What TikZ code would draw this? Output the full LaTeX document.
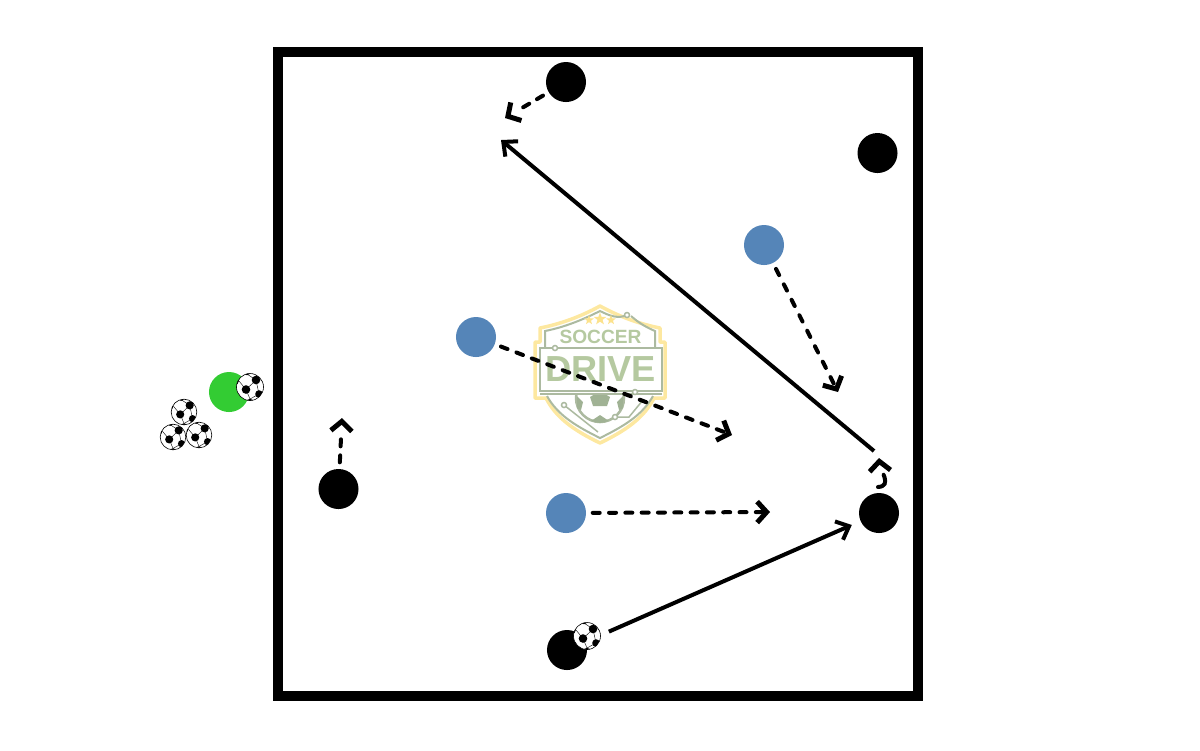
\documentclass[tikz,border=0pt]{standalone}
\usepackage{fontspec}
\usetikzlibrary{arrows.meta,shapes.geometric}
\newfontfamily\logofont{Liberation Sans}
\definecolor{fieldblack}{RGB}{0,0,0}
\definecolor{teamblue}{RGB}{85,133,184}
\definecolor{coachgreen}{RGB}{51,204,51}
\definecolor{logogold}{RGB}{253,232,160}
\definecolor{logostar}{RGB}{252,226,140}
\definecolor{logoline}{RGB}{172,186,160}
\definecolor{logotext}{RGB}{181,201,160}
\definecolor{logoball}{RGB}{160,178,148}

\begin{document}
\begin{tikzpicture}[
      x=0.01cm, y=-0.01cm,
      player/.style={circle, minimum size=0.4cm, inner sep=0pt, fill=fieldblack},
      blueplayer/.style={player, fill=teamblue},
      coach/.style={player, fill=coachgreen},
      run/.style={-{Straight Barb[length=0.95mm,width=2.1mm,line width=0.05cm]}, line width=0.04cm, line cap=round, dash pattern=on 0.07cm off #1cm, shorten <=0.06cm},
      pass/.style={-{Straight Barb[length=1.1mm,width=2mm,line width=0.04cm]}, line width=0.04cm},
      knot/.style={circle, draw=logoline, fill=white, line width=0.015cm, minimum size=0.05cm, inner sep=0pt},
      logostarnode/.style={star, star points=5, star point ratio=2.4, fill=logostar, inner sep=0pt, minimum size=0.1cm},
      pics/soccerball/.style={code={
        \fill[white] (0,0) circle [radius=13.5];
        \begin{scope}
          \clip (0,0) circle [radius=13.5];
          \draw[line width=0.004cm] (-4,2.5) -- (6,-7) (-4,2.5) -- (-11,-6) (-4,2.5) -- (0,12) (6,-7) -- (9,7) (0,12) -- (9,7) (6,-7) -- (-3,-13);
          \fill (-4,2.5) circle [radius=4.3];
          \fill (6,-7) circle [radius=4.3];
          \fill (9,7) circle [radius=3.8];
          \fill (-3,-15) circle [radius=3.2];
          \fill (-15,-6) circle [radius=3.8];
          \fill (0,16) circle [radius=4.2];
          \fill (-13,10) circle [radius=2.5];
          \fill (16,-2) circle [radius=2.8];
        \end{scope}
        \draw[line width=0.006cm] (0,0) circle [radius=13.5];
      }}
    ]
      \useasboundingbox (0,0) rectangle (1200,750);

      % Shield logo
      \draw[logogold, line width=0.035cm, fill=white, line join=round] (600,306) .. controls (580,317) and (560,324) .. (540,328) -- (540,342) -- (535,342) -- (535,398) -- (546,398) .. controls (556,418) and (575,431) .. (600,443) .. controls (625,431) and (644,418) .. (654,398) -- (665,398) -- (665,342) -- (660,342) -- (660,328) .. controls (640,324) and (620,317) .. (600,306) -- cycle;
      \draw[logoline, line width=0.02cm] (545,347) -- (545,331) .. controls (565,327) and (582,320) .. (600,311) .. controls (610,316) and (618,319) .. (627,315) (631,316) .. controls (640,324) and (648,328) .. (655,331) -- (655,347);
      \draw[logoline, line width=0.02cm] (547,396) .. controls (558,416) and (578,427) .. (600,438) .. controls (622,427) and (642,416) .. (653,396);

      % Ball inside the shield
      \begin{scope}
        \clip (540,393) rectangle (662,440);
        \draw[logoline, line width=0.025cm, fill=white] (600,398) circle [radius=24];
        \fill[logoball] (600,391) -- (610,397) -- (607,406) -- (593,406) -- (590,397) -- cycle;
        \fill[logoball] (577,396) -- (583,402) -- (581,410) -- (577,408) -- cycle;
        \fill[logoball] (623,396) -- (617,402) -- (619,410) -- (623,408) -- cycle;
        \fill[logoball] (600,415) -- (609,421) -- (600,423) -- (591,421) -- cycle;
      \end{scope}
      \draw[logoline, line width=0.015cm] (564,405) -- (598,432);
      \draw[logoline, line width=0.015cm] (615,417) -- (629,417) -- (643,400);

      % Band with the name
      \draw[logoline, line width=0.02cm, fill=white] (540,348) rectangle (662,391);
      \draw[logoline, line width=0.015cm] (540,394) -- (662,394);
      \node[logostarnode] (starl) at (589,320) {};
      \node[logostarnode, minimum size=0.13cm] (starm) at (600,319) {};
      \node[logostarnode] (starr) at (611,320) {};
      \node[text=logotext, inner sep=0pt, font=\logofont\bfseries\fontsize{5.45}{7}\selectfont] (soccerword) at (600.5,336.5) {SOCCER};
      \node[text=logotext, inner sep=0pt, font=\logofont\bfseries\fontsize{10.3}{12}\selectfont] (driveword) at (600.8,369.5) {DRIVE};
      \node[knot] (knota) at (555,348) {};
      \node[knot] (knotb) at (635,392) {};
      \node[knot] (knotc) at (627,315) {};
      \node[knot] (knotd) at (564,405) {};
      \node[knot] (knote) at (615,417) {};

      % Grid
      \draw[line width=0.1cm, fieldblack] (278,52) rectangle (918,696);

      % Black team
      \node[player] (topmid) at (566,82) {};
      \node[player] (topright) at (877.5,153) {};
      \node[player] (leftwide) at (338.5,489) {};
      \node[player] (rightwide) at (879,513) {};
      \node[player] (botmid) at (567,650) {};

      % Blue team
      \node[blueplayer] (blueright) at (764,245) {};
      \node[blueplayer] (blueleft) at (476,337) {};
      \node[blueplayer] (bluelow) at (566,513) {};

      % Server and balls
      \node[coach] (server) at (229,392) {};
      \pic (ballserver) at (250,387) {soccerball};
      \pic (ballplay) at (587,636) {soccerball};
      \pic[scale=0.95] (ballone) at (184,412) {soccerball};
      \pic[scale=0.95] (balltwo) at (173,437) {soccerball};
      \pic[scale=0.95] (ballthree) at (199,435) {soccerball};

      % Free ends
      \coordinate (toptarget) at (505,118);
      \coordinate (leftgoal) at (342,418);
      \coordinate (bluertarget) at (838,392);
      \coordinate (blueltarget) at (732,435);
      \coordinate (bluelowtarget) at (770,512);
      \coordinate (hookstart) at (878,487);
      \coordinate (hooktarget) at (879,458);
      \coordinate (passstart) at (874,451);
      \coordinate (passend) at (501,140);

      % Runs
      \draw[run=0.09, dash pattern=on 0.07cm off 0.09cm on 0.07cm off 0.4cm] (topmid) -- (toptarget);
      \draw[run=0.09, dash pattern=on 0.07cm off 0.09cm on 0.07cm off 0.4cm] (leftwide) -- (leftgoal);
      \draw[run=0.103] (blueright) -- (bluertarget);
      \draw[run=0.095] (blueleft) -- (blueltarget);
      \draw[run=0.093] (bluelow) -- (bluelowtarget);
      \draw[run=0.09, shorten <=0pt, dash pattern=on 0.17cm off 0.3cm] (hookstart) .. controls (893,486) and (880,470) .. (hooktarget);

      % Passes
      \draw[pass] (passstart) -- (passend);
      \draw[pass, shorten <=0.25cm, shorten >=0.09cm] (botmid) -- (rightwide);
    \end{tikzpicture}
\end{document}
